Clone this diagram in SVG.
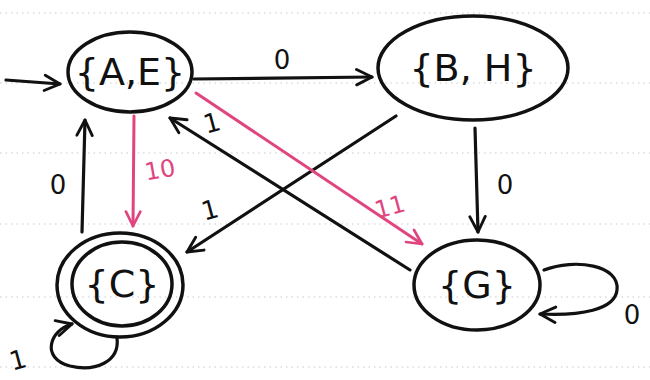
<svg xmlns="http://www.w3.org/2000/svg" width="650" height="380" viewBox="0 0 650 380">
<defs>
<marker id="ab" viewBox="0 0 10 10" refX="9" refY="5" markerWidth="6" markerHeight="6" orient="auto-start-reverse" markerUnits="strokeWidth"><path d="M1,1 L9,5 L1,9" fill="none" stroke="#111" stroke-width="1.5" stroke-linecap="round" stroke-linejoin="round"/></marker>
<marker id="ap" viewBox="0 0 10 10" refX="9" refY="5" markerWidth="6" markerHeight="6" orient="auto-start-reverse" markerUnits="strokeWidth"><path d="M1,1 L9,5 L1,9" fill="none" stroke="#e0457f" stroke-width="1.5" stroke-linecap="round" stroke-linejoin="round"/></marker>
</defs>
<style>
.paper{stroke:#c9c9d2;stroke-width:1.2;stroke-dasharray:1.5 4}
.node{fill:none;stroke:#111;stroke-width:3.5}
.lbl{font-family:"DejaVu Sans","Liberation Sans",sans-serif;font-size:38px;fill:#111;text-anchor:middle;dominant-baseline:central}
.edge{fill:none;stroke:#111;stroke-width:3.2;stroke-linecap:round;marker-end:url(#ab)}
.pink{fill:none;stroke:#e0457f;stroke-width:3;stroke-linecap:round;marker-end:url(#ap)}
.el{font-family:"DejaVu Sans","Liberation Sans",sans-serif;font-size:26px;fill:#111;text-anchor:middle;dominant-baseline:central}
.elp{font-family:"DejaVu Sans","Liberation Sans",sans-serif;font-size:24px;fill:#e0457f;text-anchor:middle;dominant-baseline:central}
</style>
<rect width="650" height="380" fill="#fff"/>
<g id="paper">
<line class="paper" x1="0" y1="13" x2="650" y2="13"/>
<line class="paper" x1="0" y1="83" x2="650" y2="83"/>
<line class="paper" x1="0" y1="153" x2="650" y2="153"/>
<line class="paper" x1="0" y1="224" x2="650" y2="224"/>
<line class="paper" x1="0" y1="297" x2="650" y2="297"/>
<line class="paper" x1="0" y1="367" x2="650" y2="367"/>
</g>
<g id="edges">
<line class="edge" x1="6" y1="80" x2="60" y2="84"/>
<line class="edge" x1="194" y1="79" x2="372" y2="77"/>
<text class="el" x="282" y="60">0</text>
<line class="pink" x1="134" y1="116" x2="133" y2="226"/>
<text class="elp" x="160" y="170" transform="rotate(-10 160 170)">10</text>
<line class="edge" x1="82" y1="232" x2="85" y2="120"/>
<text class="el" x="58" y="185">0</text>
<line class="edge" x1="396" y1="116" x2="187" y2="252"/>
<text class="el" x="210" y="210" transform="rotate(-15 210 210)">1</text>
<line class="edge" x1="410" y1="270" x2="170" y2="118"/>
<text class="el" x="212" y="123" transform="rotate(-15 212 123)">1</text>
<line class="pink" x1="196" y1="93" x2="422" y2="244"/>
<text class="elp" x="390" y="207" transform="rotate(-15 390 207)">11</text>
<line class="edge" x1="475" y1="128" x2="478" y2="232"/>
<text class="el" x="505" y="185">0</text>
<path class="edge" d="M544,270 C575,258 620,265 617,290 C615,310 580,316 540,314"/>
<text class="el" x="632" y="315">0</text>
<path class="edge" d="M117,338 C120,362 95,372 70,366 C40,358 50,330 72,324"/>
<text class="el" x="18" y="360" transform="rotate(-15 18 360)">1</text>
</g>
<g id="AE">
<ellipse class="node" cx="130" cy="72" rx="62" ry="40"/>
<text class="lbl" x="130" y="72">{A,E}</text>
</g>
<g id="BH">
<ellipse class="node" cx="473" cy="68" rx="95" ry="52"/>
<text class="lbl" x="473" y="68">{B, H}</text>
</g>
<g id="C">
<ellipse class="node" cx="120" cy="285" rx="63" ry="52"/>
<ellipse class="node" cx="122" cy="284" rx="50" ry="42"/>
<text class="lbl" x="122" y="284">{C}</text>
</g>
<g id="G">
<ellipse class="node" cx="477" cy="285" rx="63" ry="45"/>
<text class="lbl" x="477" y="285">{G}</text>
</g>
</svg>
